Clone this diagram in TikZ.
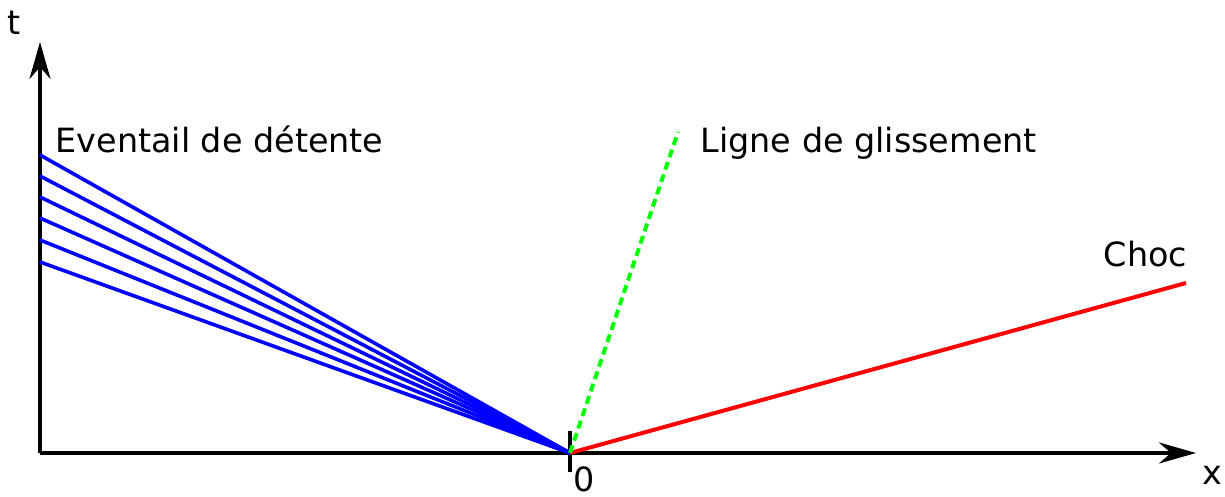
\documentclass[tikz,border=0pt]{standalone}
\usepackage{fontspec}
\setmainfont{DejaVu Sans}
\usetikzlibrary{arrows.meta}

\begin{document}
\begin{tikzpicture}[
    x=0.1mm, y=-0.1mm,
    axis/.style={line width=0.42mm, -{Stealth[length=3.7mm, width=2.1mm]}},
    fan/.style={line width=0.36mm, blue},
    slip/.style={line width=0.4mm, green, dash pattern=on 0.8mm off 0.5mm},
    shock/.style={line width=0.4mm, red},
    lbl/.style={anchor=base west, inner sep=0pt, font=\fontsize{9.5}{11}\selectfont},
]
\useasboundingbox (0,0) rectangle (1225,497);
% axes
\coordinate (O)  at (40,453);
\coordinate (tt) at (40,42);
\coordinate (xx) at (1196,453);
\coordinate (c0) at (570,453);
\draw[axis] (O) -- (tt);
\draw[axis] (O) -- (xx);
\coordinate (tk1) at (570,431);
\coordinate (tk2) at (570,472);
\draw[line width=0.36mm] (tk1) -- (tk2);
\node[lbl] (tlab) at (7,35) {t};
\node[lbl] (xlab) at (1202,485) {x};
\node[lbl] (zero) at (573,492) {0};
% waves
\foreach \y [count=\i] in {155,176,197,218,240,262}
  \coordinate (f\i) at (40,\y);
\foreach \i in {1,...,6}
  \draw[fan] (f\i) -- (c0);
\coordinate (chocEnd) at (1186,283);
\draw[shock] (c0) -- (chocEnd);
\coordinate (slipEnd) at (678,132);
\draw[slip] (c0) -- (slipEnd);
\node[lbl] (evlab) at (55,153) {Eventail de détente};
\node[lbl] (gllab) at (700,153) {Ligne de glissement};
\node[lbl] (chlab) at (1103,267) {Choc};
\end{tikzpicture}
\end{document}
